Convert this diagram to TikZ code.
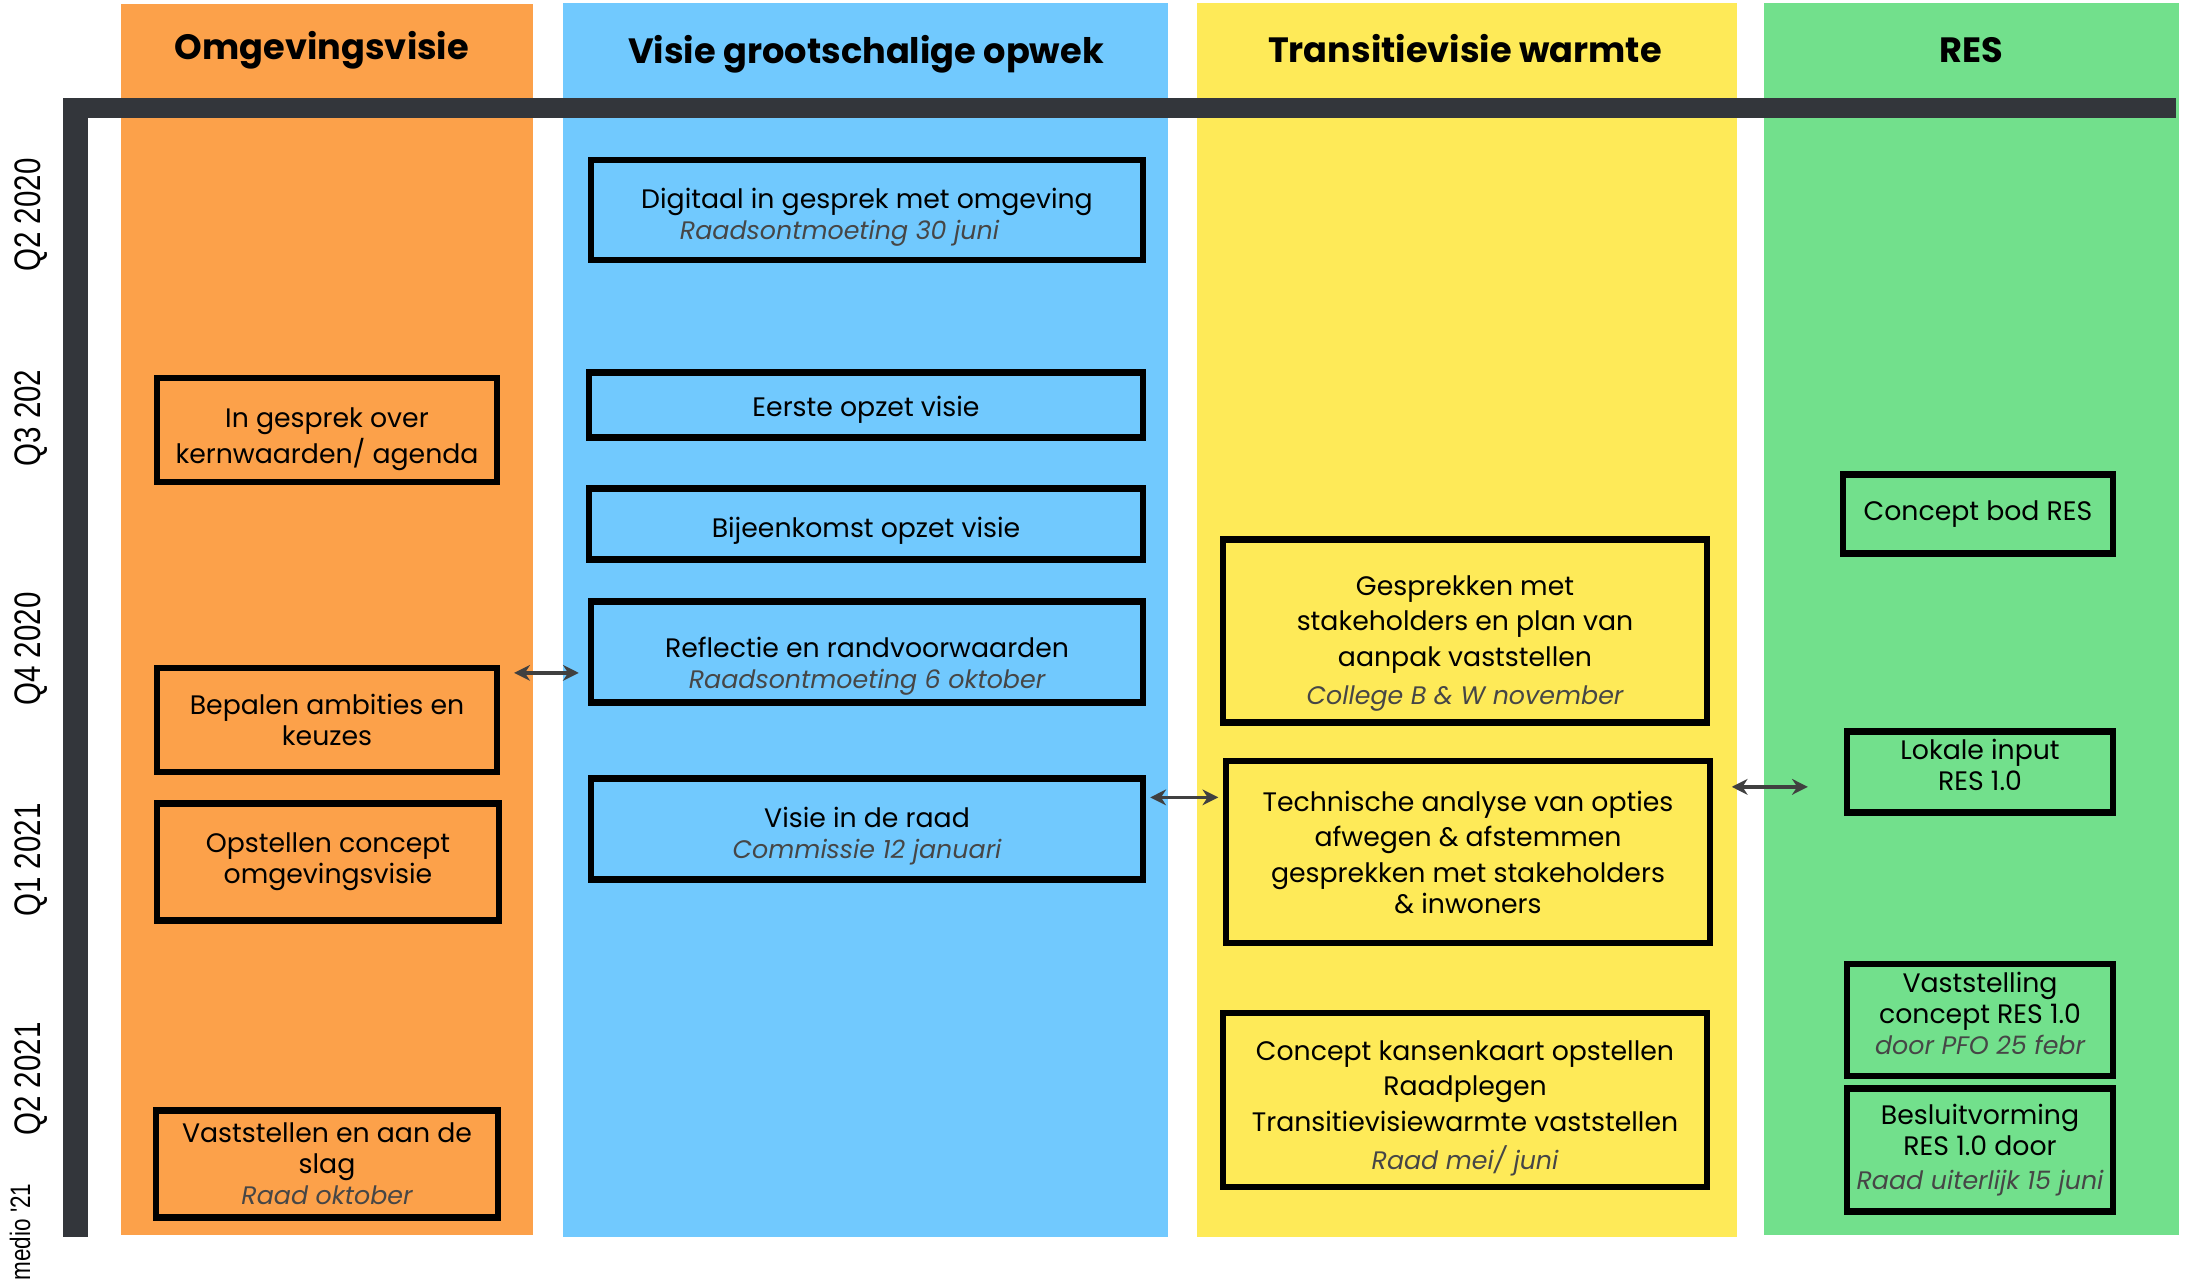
\documentclass[tikz,border=0pt]{standalone}
\usepackage{fontspec}
\usepackage{xcolor}
\usepackage{tikz}
\usetikzlibrary{arrows.meta,positioning}
\setmainfont{Poppins}
\newfontfamily\quarterfont[FakeStretch=0.8]{Liberation Sans}
\definecolor{omgevingorange}{RGB}{252,161,74}
\definecolor{opwekblue}{RGB}{113,201,254}
\definecolor{warmteyellow}{RGB}{254,234,88}
\definecolor{resgreen}{RGB}{114,224,140}
\definecolor{axisgray}{RGB}{51,54,59}
\definecolor{linkgray}{RGB}{64,64,64}
\definecolor{notegray}{RGB}{70,70,70}
\newcommand{\datum}[1]{{\fontsize{7.2}{8.8}\selectfont\itshape\color{notegray}#1}}
\newcommand{\lift}[1]{\rule{0pt}{#1}}

\begin{document}
\begin{tikzpicture}[
    x=0.01cm, y=-0.01cm,
    header/.style={anchor=base, font=\fontsize{10}{12}\selectfont\bfseries},
    quarter/.style={rotate=90, font=\quarterfont\fontsize{10.5}{12}\selectfont},
    task/.style={rectangle, draw=black, line width=1.75pt, align=center,
                 inner sep=1pt, font=\fontsize{7.6}{8.8}\selectfont},
    link/.style={<->, >={Stealth[length=4.5pt,width=4.5pt]}, line width=1pt, draw=linkgray}
]
\useasboundingbox (0,0) rectangle (2189,1280);

% Lanes
\fill[omgevingorange] (121,4) rectangle (533,1235);
\fill[opwekblue] (563,3) rectangle (1168,1237);
\fill[warmteyellow] (1197,3) rectangle (1737,1237);
\fill[resgreen] (1764,3) rectangle (2179,1235);

% Headers
\node[header] (omgeving) at (322,60) {Omgevingsvisie};
\node[header] (opwek) at (866,64) {Visie grootschalige opwek};
\node[header] (warmte) at (1465,63) {Transitievisie warmte};
\node[header] (res) at (1971,63) {RES};

% Time axis
\fill[axisgray] (63,98) rectangle (2176,118);
\fill[axisgray] (63,98) rectangle (88,1237);

% Quarters
\node[quarter] (q2a) at (31,215) {Q2 2020};
\node[quarter] (q3a) at (31,418) {Q3 202};
\node[quarter] (q4a) at (31,649) {Q4 2020};
\node[quarter] (q1b) at (31,860) {Q1 2021};
\node[quarter] (q2b) at (31,1079) {Q2 2021};
\node[quarter, font=\quarterfont\fontsize{8}{10}\selectfont] (medio) at (20,1232) {medio '21};

% Omgevingsvisie
\node[task, minimum width=3.40cm, minimum height=1.04cm] (kernwaarden) at (327,430)
    {\lift{10.7pt}In gesprek over\\kernwaarden/ agenda};
\node[task, minimum width=3.40cm, minimum height=1.04cm] (ambities) at (327,720)
    {Bepalen ambities en\\keuzes};
\node[task, minimum width=3.42cm, minimum height=1.17cm] (conceptvisie) at (328,862)
    {Opstellen concept\\omgevingsvisie};
\node[task, minimum width=3.42cm, minimum height=1.07cm] (vaststellen) at (327,1164)
    {Vaststellen en aan de\\slag\\\datum{Raad oktober}};

% Visie grootschalige opwek
\node[task, minimum width=5.51cm, minimum height=1.00cm] (digitaal) at (867,210)
    {\lift{9.8pt}Digitaal in gesprek met omgeving\\\datum{Raadsontmoeting 30 juni}\hspace*{0.55cm}};
\node[task, minimum width=5.53cm, minimum height=0.65cm] (opzet) at (866,405)
    {\lift{8.8pt}Eerste opzet visie};
\node[task, minimum width=5.53cm, minimum height=0.71cm] (bijeenkomst) at (866,524)
    {\lift{9.8pt}Bijeenkomst opzet visie};
\node[task, minimum width=5.52cm, minimum height=1.01cm] (reflectie) at (867,652)
    {\lift{13.7pt}Reflectie en randvoorwaarden\\\datum{Raadsontmoeting 6 oktober}};
\node[task, minimum width=5.52cm, minimum height=1.01cm] (raad) at (867,829)
    {\lift{9.8pt}Visie in de raad\\\datum{Commissie 12 januari}};

% Transitievisie warmte
\node[task, minimum width=4.83cm, minimum height=1.83cm] (gesprekken) at (1465,631)
    {\lift{12.7pt}Gesprekken met\\[1.3pt]stakeholders en plan van\\[1.3pt]aanpak vaststellen\\[2pt]\datum{College B \& W november}};
\node[task, minimum width=4.83cm, minimum height=1.82cm] (analyse) at (1468,852)
    {Technische analyse van opties\\[1.3pt]afwegen \& afstemmen\\[1.3pt]gesprekken met stakeholders\\\& inwoners};
\node[task, minimum width=4.83cm, minimum height=1.74cm] (kansenkaart) at (1465,1100)
    {\lift{10.3pt}Concept kansenkaart opstellen\\[1.3pt]Raadplegen\\[1.3pt]Transitievisiewarmte vaststellen\\[2pt]\datum{Raad mei/ juni}};

% RES
\node[task, minimum width=2.70cm, minimum height=0.79cm] (bod) at (1978,514)
    {Concept bod RES};
\node[task, minimum width=2.66cm, minimum height=0.81cm] (lokaal) at (1980,772)
    {Lokale input\\RES 1.0\rule[-4.3pt]{0pt}{0pt}};
\node[task, minimum width=2.66cm, minimum height=1.12cm] (vaststelling) at (1980,1020)
    {Vaststelling\\concept RES 1.0\\\datum{door PFO 25 febr}\rule[-3.8pt]{0pt}{0pt}};
\node[task, minimum width=2.66cm, minimum height=1.23cm] (besluit) at (1980,1150)
    {Besluitvorming\\RES 1.0 door\\[1pt]\datum{Raad uiterlijk 15 juni}};

% Connections
\draw[link] ([shift={(14,8)}]ambities.north east) -- ([shift={(-9,8)}]ambities.north east -| reflectie.west);
\draw[link] ([shift={(4,22)}]raad.north east) -- ([shift={(-5,22)}]raad.north east -| analyse.west);
\draw[link] ([shift={(19,29)}]analyse.north east) -- ([shift={(-36,29)}]analyse.north east -| lokaal.west);

\end{tikzpicture}
\end{document}
